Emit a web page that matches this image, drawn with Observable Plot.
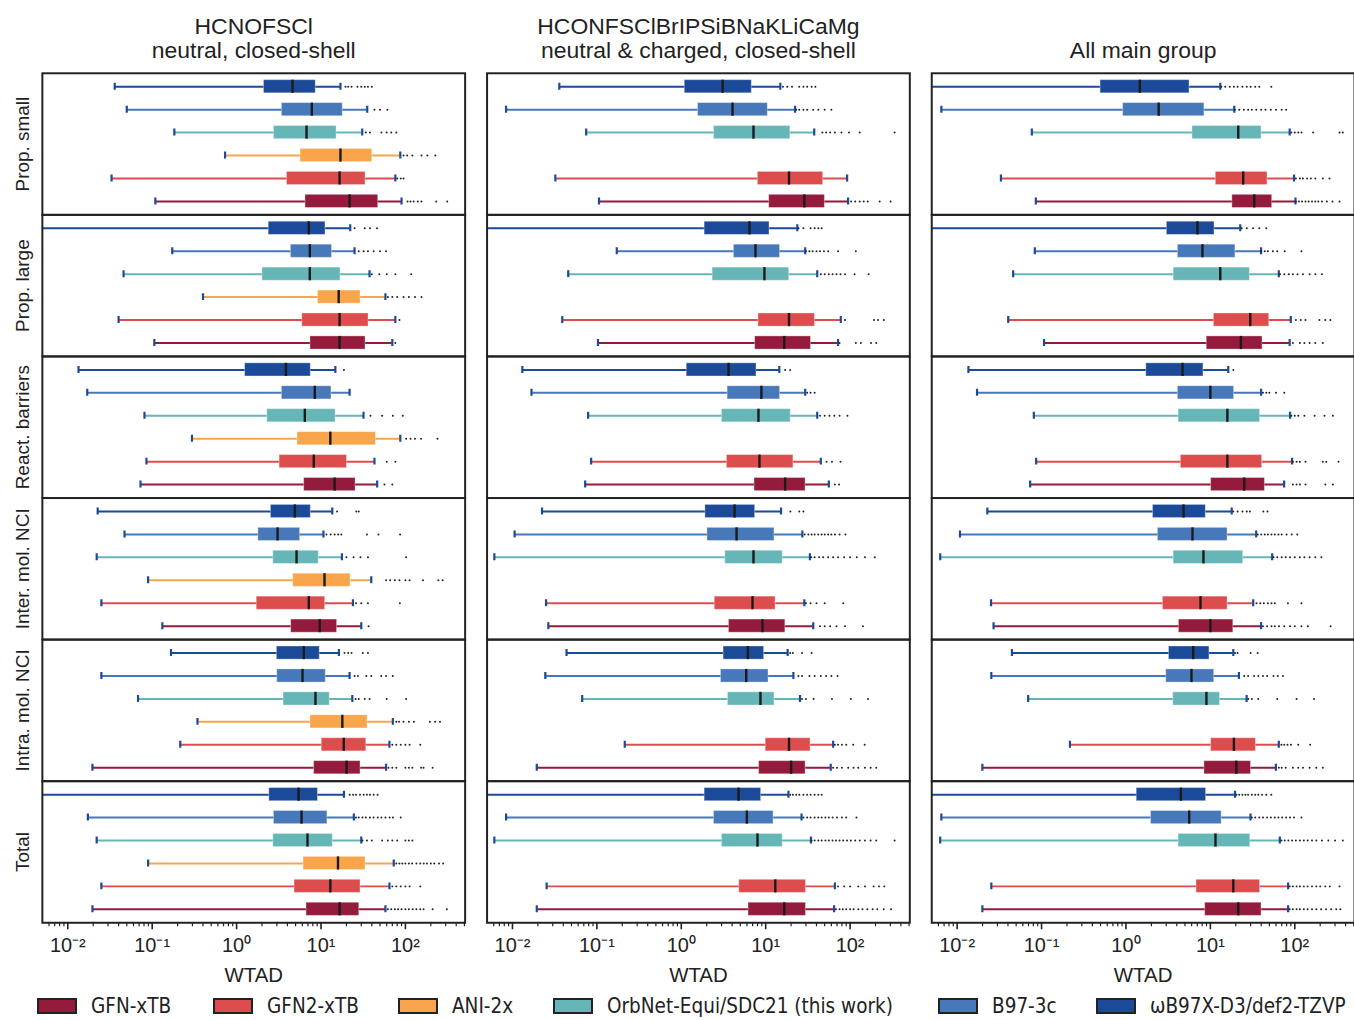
<!DOCTYPE html>
<html>
<head>
<meta charset="utf-8">
<script src="https://cdn.jsdelivr.net/npm/d3@7"></script>
<script src="https://cdn.jsdelivr.net/npm/@observablehq/plot@0.6"></script>
<style>
  html, body { margin: 0; padding: 0; background: #fff; overflow: hidden; width: 1354px; height: 1020px; }
  #chart svg { display: block; }
  #legend { position: relative; height: 18px; margin-top: 10px;
    font-family: "DejaVu Sans Condensed", "DejaVu Sans", sans-serif; font-stretch: condensed; font-size: 20.5px; line-height: 18px; color: #222; }
  .item { position: absolute; top: 0; display: flex; align-items: center; height: 18px; white-space: nowrap; }
  .item span { line-height: 18px; }
  .sw { width: 36px; height: 12px; border: 2px solid #222; margin-right: 14px; }
</style>
</head>
<body>
<div id="chart"></div>
<div id="legend"></div>
<script>
// ---------- data ----------
const subsets = ["HCNOFSCl", "HCONFSClBrIPSiBNaKLiCaMg", "All main group"];
const subsetTitles = ["HCNOFSCl\nneutral, closed-shell", "HCONFSClBrIPSiBNaKLiCaMg\nneutral & charged, closed-shell", "All main group"];
const tasks = ["Prop. small", "Prop. large", "React. barriers", "Inter. mol. NCI", "Intra. mol. NCI", "Total"];
const methodCodes = ["GFN", "GFN2", "ANI", "Orb", "B97", "wB97"];
const methodLabels = ["GFN-xTB", "GFN2-xTB", "ANI-2x", "OrbNet-Equi/SDC21 (this work)", "B97-3c", "ωB97X-D3/def2-TZVP"];
const methodColors = ["#941b3c", "#de4d4d", "#f8a54c", "#66b5b7", "#4778b9", "#1b4a99"];
const rowOrder = ["wB97", "B97", "Orb", "ANI", "GFN2", "GFN"];
const majorTicks = [0.01, 0.1, 1, 10, 100];
const tickLabels = ["10⁻²", "10⁻¹", "10⁰", "10¹", "10²"];
const minorMultipliers = [2, 3, 4, 5, 6, 7, 8, 9];

// [task, method, whisker low, q1, median, q3, whisker high]
const statsHCNOFSCl = [
  ["Prop. small", "wB97", 0.036, 2.11, 4.6, 8.67, 17],
  ["Prop. small", "B97", 0.05, 3.44, 7.78, 18.1, 35.3],
  ["Prop. small", "Orb", 0.183, 2.77, 6.74, 15.3, 30.8],
  ["Prop. small", "ANI", 0.73, 5.72, 17, 40.5, 87],
  ["Prop. small", "GFN2", 0.033, 3.95, 16.6, 33.7, 76],
  ["Prop. small", "GFN", 0.109, 6.55, 21.8, 47.6, 90],
  ["Prop. large", "wB97", 0.003, 2.4, 7.17, 11.3, 22.2],
  ["Prop. large", "B97", 0.173, 4.4, 7.37, 13.5, 25],
  ["Prop. large", "Orb", 0.0458, 2.02, 7.37, 17, 37.6],
  ["Prop. large", "ANI", 0.4, 9.2, 16.2, 29.4, 58],
  ["Prop. large", "GFN2", 0.04, 6.0, 16.6, 36.6, 76],
  ["Prop. large", "GFN", 0.106, 7.5, 16.6, 33.7, 70],
  ["React. barriers", "wB97", 0.0134, 1.26, 3.84, 7.57, 14.8],
  ["React. barriers", "B97", 0.017, 3.44, 8.44, 13.3, 21.8],
  ["React. barriers", "Orb", 0.081, 2.31, 6.43, 14.9, 31.9],
  ["React. barriers", "ANI", 0.296, 5.27, 12.9, 44.7, 87],
  ["React. barriers", "GFN2", 0.0855, 3.23, 8.21, 20.3, 43],
  ["React. barriers", "GFN", 0.0727, 6.31, 14.5, 25.7, 46.3],
  ["Inter. mol. NCI", "wB97", 0.0226, 2.55, 4.9, 7.57, 13.6],
  ["Inter. mol. NCI", "B97", 0.047, 1.81, 3.06, 5.66, 10.7],
  ["Inter. mol. NCI", "Orb", 0.022, 2.72, 5.13, 9.4, 17.7],
  ["Inter. mol. NCI", "ANI", 0.0895, 4.68, 11, 22.4, 39.4],
  ["Inter. mol. NCI", "GFN2", 0.025, 1.73, 7.17, 11.2, 23.9],
  ["Inter. mol. NCI", "GFN", 0.132, 4.43, 9.66, 15.5, 30],
  ["Intra. mol. NCI", "wB97", 0.167, 3.0, 6.26, 9.66, 16.3],
  ["Intra. mol. NCI", "B97", 0.025, 3.03, 6.04, 11.4, 21.8],
  ["Intra. mol. NCI", "Orb", 0.068, 3.6, 8.6, 12.7, 23.5],
  ["Intra. mol. NCI", "ANI", 0.344, 7.5, 17.9, 35.6, 71],
  ["Intra. mol. NCI", "GFN2", 0.215, 10.2, 18.6, 34.4, 64.7],
  ["Intra. mol. NCI", "GFN", 0.0196, 8.28, 20.1, 29.4, 59],
  ["Total", "wB97", 0.003, 2.44, 5.42, 9.2, 18.7],
  ["Total", "B97", 0.0173, 2.77, 5.88, 11.9, 24.5],
  ["Total", "Orb", 0.022, 2.72, 6.92, 13.8, 30],
  ["Total", "ANI", 0.0895, 6.21, 15.9, 33.7, 72.8],
  ["Total", "GFN2", 0.025, 4.86, 12.9, 29.4, 64.7],
  ["Total", "GFN", 0.0196, 6.73, 16.6, 28.4, 58]
];
const statsExtended = [
  ["Prop. small", "wB97", 0.0359, 1.1, 3.09, 6.85, 14.9],
  ["Prop. small", "B97", 0.0084, 1.58, 4.05, 10.6, 22.3],
  ["Prop. small", "Orb", 0.0747, 2.44, 7.17, 19.6, 37.6],
  ["Prop. small", "GFN2", 0.0322, 8.07, 18.9, 48, 92.2],
  ["Prop. small", "GFN", 0.106, 11, 28.7, 50.3, 94.7],
  ["Prop. large", "wB97", 0.003, 1.89, 6.43, 11.1, 23.7],
  ["Prop. large", "B97", 0.172, 4.2, 7.57, 14.8, 29.4],
  ["Prop. large", "Orb", 0.0458, 2.35, 9.66, 19, 40.8],
  ["Prop. large", "GFN2", 0.0389, 8.21, 18.9, 38.3, 77.6],
  ["Prop. large", "GFN", 0.103, 7.5, 16.6, 34.4, 72],
  ["React. barriers", "wB97", 0.0131, 1.16, 3.63, 7.78, 14.5],
  ["React. barriers", "B97", 0.0168, 3.54, 8.9, 14.8, 29.4],
  ["React. barriers", "Orb", 0.0788, 3.03, 8.21, 19.8, 40.8],
  ["React. barriers", "GFN2", 0.0855, 3.47, 8.44, 21.3, 45],
  ["React. barriers", "GFN", 0.0727, 7.37, 17, 29.7, 56],
  ["Inter. mol. NCI", "wB97", 0.0224, 1.93, 4.28, 7.5, 15.2],
  ["Inter. mol. NCI", "B97", 0.0106, 2.04, 4.52, 12.7, 27.2],
  ["Inter. mol. NCI", "Orb", 0.0061, 3.32, 7.17, 15.9, 33.4],
  ["Inter. mol. NCI", "GFN2", 0.025, 2.49, 6.98, 13.1, 28.7],
  ["Inter. mol. NCI", "GFN", 0.0266, 3.67, 9.16, 17.1, 36.6],
  ["Intra. mol. NCI", "wB97", 0.0437, 3.17, 6.15, 9.58, 18.2],
  ["Intra. mol. NCI", "B97", 0.0245, 2.95, 5.88, 10.8, 21.3],
  ["Intra. mol. NCI", "Orb", 0.067, 3.57, 8.67, 12.7, 25.5],
  ["Intra. mol. NCI", "GFN2", 0.214, 10, 18.9, 34, 63],
  ["Intra. mol. NCI", "GFN", 0.0194, 8.36, 20, 29.7, 59],
  ["Total", "wB97", 0.003, 1.89, 4.77, 8.83, 18.6],
  ["Total", "B97", 0.0084, 2.44, 5.98, 12.4, 26.6],
  ["Total", "Orb", 0.0061, 3.03, 8.0, 15.9, 34.4],
  ["Total", "GFN2", 0.0254, 4.86, 13, 30, 66],
  ["Total", "GFN", 0.0194, 6.26, 16.6, 30, 64.7]
];
const statsAllMain = [
  ["Prop. small", "wB97", 0.003, 0.5, 1.46, 5.66, 13.1],
  ["Prop. small", "B97", 0.0065, 0.925, 2.44, 8.5, 19.2],
  ["Prop. small", "Orb", 0.0767, 6.14, 21.4, 40.4, 87],
  ["Prop. small", "GFN2", 0.033, 11.6, 24.5, 47.5, 98],
  ["Prop. small", "GFN", 0.0855, 18.2, 33.1, 54, 102],
  ["Prop. large", "wB97", 0.003, 3.05, 7.03, 11.2, 22.6],
  ["Prop. large", "B97", 0.0832, 4.12, 8.06, 19.8, 39.9],
  ["Prop. large", "Orb", 0.0461, 3.67, 13.1, 29.4, 64.7],
  ["Prop. large", "GFN2", 0.0403, 11, 29.7, 49.8, 89.7],
  ["Prop. large", "GFN", 0.107, 9.06, 23, 41.5, 87],
  ["React. barriers", "wB97", 0.0136, 1.74, 4.68, 8.28, 16.3],
  ["React. barriers", "B97", 0.0172, 4.12, 10, 19.1, 39.9],
  ["React. barriers", "Orb", 0.081, 4.2, 15.9, 38.8, 88],
  ["React. barriers", "GFN2", 0.0863, 4.47, 15.9, 41.1, 93],
  ["React. barriers", "GFN", 0.0733, 10.2, 25.2, 44.3, 74.8],
  ["Inter. mol. NCI", "wB97", 0.0228, 2.09, 4.81, 8.83, 17.9],
  ["Inter. mol. NCI", "B97", 0.0108, 2.39, 6.14, 16, 34.9],
  ["Inter. mol. NCI", "Orb", 0.0063, 3.67, 8.28, 24.5, 54],
  ["Inter. mol. NCI", "GFN2", 0.0252, 2.74, 7.64, 16, 32.2],
  ["Inter. mol. NCI", "GFN", 0.027, 4.24, 10, 18.7, 39.9],
  ["Intra. mol. NCI", "wB97", 0.0446, 3.23, 6.26, 9.75, 18.7],
  ["Intra. mol. NCI", "B97", 0.0254, 3.0, 5.97, 11.1, 21.8],
  ["Intra. mol. NCI", "Orb", 0.0694, 3.63, 8.98, 13, 26.9],
  ["Intra. mol. NCI", "GFN2", 0.217, 10.2, 19, 34.6, 64.7],
  ["Intra. mol. NCI", "GFN", 0.0199, 8.5, 20.3, 30.3, 59.7],
  ["Total", "wB97", 0.003, 1.34, 4.47, 8.9, 19.6],
  ["Total", "B97", 0.0065, 1.98, 5.61, 13.6, 29.9],
  ["Total", "Orb", 0.0063, 4.2, 11.5, 29.7, 66.5],
  ["Total", "GFN2", 0.0254, 6.84, 18.7, 38.8, 83.4],
  ["Total", "GFN", 0.0199, 8.67, 21.4, 40.4, 83.4]
];

// [task, method, outlier values]
const outliersHCNOFSCl = [
  ["Prop. small", "wB97", [19.5, 21, 23, 27, 30, 33, 36, 40]],
  ["Prop. small", "B97", [43, 50, 61]],
  ["Prop. small", "Orb", [34, 38, 52, 60, 68, 78]],
  ["Prop. small", "ANI", [95, 105, 121, 155, 182, 226]],
  ["Prop. small", "GFN2", [80, 88, 95]],
  ["Prop. small", "GFN", [106, 115, 125, 140, 155, 232, 313]],
  ["Prop. large", "wB97", [25, 33, 38, 46]],
  ["Prop. large", "B97", [28, 32, 36, 42, 50, 59]],
  ["Prop. large", "Orb", [40, 49, 60, 76, 117]],
  ["Prop. large", "ANI", [62, 70, 80, 95, 110, 130, 155]],
  ["Prop. large", "GFN2", [85]],
  ["Prop. large", "GFN", [76]],
  ["React. barriers", "wB97", [18.7]],
  ["React. barriers", "Orb", [38.6, 53, 71, 93]],
  ["React. barriers", "ANI", [102, 115, 130, 153, 240]],
  ["React. barriers", "GFN2", [60, 76]],
  ["React. barriers", "GFN", [56.5, 70]],
  ["Inter. mol. NCI", "wB97", [15.5, 26.2, 28]],
  ["Inter. mol. NCI", "B97", [11.6, 13, 14.5, 16, 17.4, 35, 48, 86.5]],
  ["Inter. mol. NCI", "Orb", [20, 24.3, 29.4, 36, 102]],
  ["Inter. mol. NCI", "ANI", [59, 66, 75, 85, 100, 112, 162, 246, 276]],
  ["Inter. mol. NCI", "GFN2", [26, 30, 36, 86]],
  ["Inter. mol. NCI", "GFN", [36.6]],
  ["Intra. mol. NCI", "wB97", [19, 21, 23, 31.3, 36]],
  ["Intra. mol. NCI", "B97", [25, 27.4, 34.4, 39.4, 51.7, 59, 70.8]],
  ["Intra. mol. NCI", "Orb", [25.7, 28, 33, 37.6, 60, 102]],
  ["Intra. mol. NCI", "ANI", [78, 84, 95, 110, 126, 195, 225, 257]],
  ["Intra. mol. NCI", "GFN2", [70, 78, 88, 100, 112, 150]],
  ["Intra. mol. NCI", "GFN", [63, 70, 78, 100, 110, 121, 153, 164, 210]],
  ["Total", "wB97", [21.9, 24, 26, 29, 32, 35, 38, 42, 46.8]],
  ["Total", "B97", [26, 28, 31, 34, 38, 42, 47, 52, 58, 65, 71, 88]],
  ["Total", "Orb", [31, 35, 40, 53, 62, 70, 80, 100, 110, 121]],
  ["Total", "ANI", [78, 85, 92, 100, 110, 120, 135, 150, 165, 180, 200, 220, 250, 280]],
  ["Total", "GFN2", [70, 78, 88, 100, 112, 150]],
  ["Total", "GFN", [62, 68, 75, 82, 90, 100, 110, 122, 135, 150, 164, 210, 310]]
];
const outliersExtended = [
  ["Prop. small", "wB97", [16, 18, 20.5, 25, 28, 31, 35, 38.8]],
  ["Prop. small", "B97", [23, 25, 28, 31, 36.6, 42, 50, 60]],
  ["Prop. small", "Orb", [47, 52, 58, 66, 79, 97, 130, 337]],
  ["Prop. small", "GFN", [103, 115, 130, 145, 162, 224, 302]],
  ["Prop. large", "wB97", [24.5, 28, 34, 38, 42, 46]],
  ["Prop. large", "B97", [30, 33, 36, 40, 44, 49, 55, 72, 117]],
  ["Prop. large", "Orb", [45, 50, 56, 62, 69, 77, 87, 113, 166]],
  ["Prop. large", "GFN2", [87, 192, 215, 251]],
  ["Prop. large", "GFN", [75, 117, 134, 177, 204]],
  ["React. barriers", "wB97", [17, 19.5]],
  ["React. barriers", "B97", [31, 34, 38]],
  ["React. barriers", "Orb", [44, 50, 57, 65, 75, 93]],
  ["React. barriers", "GFN2", [52.6, 61, 77]],
  ["React. barriers", "GFN", [66, 74]],
  ["Inter. mol. NCI", "wB97", [19.6, 25, 28]],
  ["Inter. mol. NCI", "B97", [29, 32, 35, 38, 42, 46, 50, 55, 60, 66, 75, 88]],
  ["Inter. mol. NCI", "Orb", [34.7, 38, 43, 48, 55, 63, 72, 85, 100, 120, 150, 196]],
  ["Inter. mol. NCI", "GFN2", [30, 34, 40, 50, 83]],
  ["Inter. mol. NCI", "GFN", [44, 50, 58, 69, 87, 142]],
  ["Intra. mol. NCI", "wB97", [19.5, 21, 27, 35]],
  ["Intra. mol. NCI", "B97", [24.4, 27, 33, 38, 45, 52, 60, 71]],
  ["Intra. mol. NCI", "Orb", [27, 30, 37, 61, 102, 163]],
  ["Intra. mol. NCI", "GFN2", [66, 72, 80, 90, 109, 149]],
  ["Intra. mol. NCI", "GFN", [63, 70, 80, 95, 110, 125, 150, 175, 204]],
  ["Total", "wB97", [19.5, 21, 23, 25, 28, 31, 34, 38, 42, 46]],
  ["Total", "B97", [28, 31, 34, 38, 42, 46, 51, 56, 62, 70, 80, 90, 119]],
  ["Total", "Orb", [35, 38, 42, 46, 51, 56, 62, 68, 75, 83, 92, 102, 115, 130, 150, 175, 204, 337]],
  ["Total", "GFN2", [72, 85, 100, 125, 150, 190, 220, 254]],
  ["Total", "GFN", [68, 75, 82, 90, 100, 110, 125, 140, 160, 185, 210, 250, 306]]
];
const outliersAllMain = [
  ["Prop. small", "wB97", [13.5, 15, 17, 19, 21, 24, 27, 30, 34, 38, 52.7]],
  ["Prop. small", "B97", [19.5, 22, 25, 28, 31, 35, 40, 45, 52, 60, 70, 79]],
  ["Prop. small", "Orb", [91, 100, 110, 120, 165, 339, 371]],
  ["Prop. small", "GFN2", [103, 115, 125, 140, 155, 175, 215, 258]],
  ["Prop. small", "GFN", [103, 112, 122, 134, 146, 160, 175, 190, 210, 240, 280, 339]],
  ["Prop. large", "wB97", [23.5, 27, 32, 38, 46]],
  ["Prop. large", "B97", [40, 44, 48, 55, 62, 76, 120]],
  ["Prop. large", "Orb", [67, 75, 85, 95, 108, 125, 150, 175, 210]],
  ["Prop. large", "GFN2", [103, 118, 134, 196, 230, 264]],
  ["Prop. large", "GFN", [95, 115, 130, 150, 175, 215]],
  ["React. barriers", "wB97", [18.7]],
  ["React. barriers", "B97", [42, 46, 50, 60, 75]],
  ["React. barriers", "Orb", [91, 100, 110, 130, 172, 225, 283]],
  ["React. barriers", "GFN2", [95, 105, 115, 134, 215, 236, 330]],
  ["React. barriers", "GFN", [95, 105, 115, 134, 230, 283]],
  ["Inter. mol. NCI", "wB97", [18.7, 21, 24, 27, 29.4, 42.4, 47.5]],
  ["Inter. mol. NCI", "B97", [36.4, 40, 44, 48, 53, 58, 64, 70, 80, 92, 107]],
  ["Inter. mol. NCI", "Orb", [56, 62, 70, 78, 88, 100, 115, 130, 150, 175, 207]],
  ["Inter. mol. NCI", "GFN2", [35.2, 39, 43, 48, 53, 58, 83, 120]],
  ["Inter. mol. NCI", "GFN", [42, 47, 53, 58, 65, 75, 88, 100, 120, 143, 266]],
  ["Intra. mol. NCI", "wB97", [19.6, 21, 30, 36.3]],
  ["Intra. mol. NCI", "B97", [25.2, 28, 33, 37, 42, 47, 56, 63, 72.4]],
  ["Intra. mol. NCI", "Orb", [28.1, 31, 36.9, 62, 105, 169]],
  ["Intra. mol. NCI", "GFN2", [69.5, 75, 82, 90, 110, 152]],
  ["Intra. mol. NCI", "GFN", [64.8, 70, 78, 95, 110, 125, 150, 180, 215]],
  ["Total", "wB97", [20.4, 22, 24, 26, 28, 31, 34, 37, 41, 46, 52.7]],
  ["Total", "B97", [31, 34, 38, 42, 47, 52, 58, 64, 71, 79, 88, 98, 120]],
  ["Total", "Orb", [69.5, 76, 84, 93, 103, 115, 128, 142, 160, 180, 210, 250, 300, 371]],
  ["Total", "GFN2", [87, 95, 105, 115, 128, 142, 160, 180, 200, 230, 260, 339]],
  ["Total", "GFN", [87, 95, 105, 115, 128, 142, 160, 180, 205, 235, 270, 310, 347]]
];

// ---------- tables for the library ----------
const statSets = [statsHCNOFSCl, statsExtended, statsAllMain];
const outlierSets = [outliersHCNOFSCl, outliersExtended, outliersAllMain];
const boxes = [];
statSets.forEach((rows, i) => rows.forEach(([task, method, lo, q1, med, q3, hi]) =>
  boxes.push({subset: subsets[i], task, method, lo, q1, med, q3, hi})));
const caps = boxes.flatMap(b => [{...b, v: b.lo}, {...b, v: b.hi}]);
const fliers = [];
outlierSets.forEach((rows, i) => rows.forEach(([task, method, vals]) =>
  vals.forEach(v => fliers.push({subset: subsets[i], task, method, v}))));
const titles = subsets.map((s, i) => ({subset: s, task: tasks[0], text: subsetTitles[i]}));
const rowLabels = tasks.map(t => ({subset: subsets[0], task: t}));
const xLabels = subsets.map(s => ({subset: s, task: tasks[tasks.length - 1]}));
const minorTicks = majorTicks.slice(0, -1).flatMap(d => minorMultipliers.map(m => +(d * m).toPrecision(3)))
  .concat([0.006, 0.007, 0.008, 0.009, 200, 300, 400, 500]);
const tickText = d => tickLabels[majorTicks.indexOf(d)] ?? "";

const BOX_INSET = 4.9;
const chart = Plot.plot({
  width: 1358,
  height: 990,
  marginLeft: 42,
  marginRight: 0,
  marginTop: 72,
  marginBottom: 64,
  style: {fontFamily: "'Liberation Sans', Arial, sans-serif", fontSize: "19px", color: "#222", background: "#fff", overflow: "visible"},
  x: {type: "log", domain: [0.005, 510], label: null},
  y: {domain: rowOrder, padding: 0, axis: null},
  fx: {domain: subsets, paddingInner: 22 / 446, paddingOuter: 0, axis: null},
  fy: {domain: tasks, padding: 0, axis: null},
  color: {domain: methodCodes, range: methodColors},
  marks: [
    Plot.ruleY(boxes, {fx: "subset", fy: "task", y: "method", x1: "lo", x2: "hi", stroke: "method", strokeWidth: 2, clip: true}),
    Plot.tickX(caps, {fx: "subset", fy: "task", y: "method", x: "v", stroke: "#1b4a99", strokeWidth: 2.2, insetTop: 8, insetBottom: 8, clip: true}),
    Plot.barX(boxes, {fx: "subset", fy: "task", y: "method", x1: "q1", x2: "q3", fill: "method",
      stroke: "#fff", strokeOpacity: 0.35, strokeWidth: 1, insetTop: BOX_INSET, insetBottom: BOX_INSET}),
    Plot.tickX(boxes, {fx: "subset", fy: "task", y: "method", x: "med", stroke: "#1a1a1a", strokeWidth: 2.4, insetTop: BOX_INSET, insetBottom: BOX_INSET}),
    Plot.dot(fliers, {fx: "subset", fy: "task", y: "method", x: "v", r: 1, fill: "#222", stroke: "none", clip: true}),
    Plot.frame({stroke: "#222", strokeWidth: 2}),
    Plot.axisX({ticks: majorTicks, tickFormat: tickText, tickSize: 7, tickPadding: 8, fontSize: 20, label: null, strokeWidth: 1.6, stroke: "#222"}),
    Plot.axisX({ticks: minorTicks, tickFormat: () => "", tickSize: 4, label: null, strokeWidth: 1.2, stroke: "#222"}),
    Plot.text(titles, {fx: "subset", fy: "task", text: "text", frameAnchor: "top", lineAnchor: "bottom", dy: -15, fontSize: 23, lineHeight: 1.08, fill: "#222"}),
    Plot.text(rowLabels, {fx: "subset", fy: "task", text: "task", frameAnchor: "left", textAnchor: "middle", rotate: -90, dx: -20, fontSize: 19, fill: "#222"}),
    Plot.text(xLabels, {fx: "subset", fy: "task", text: () => "WTAD", frameAnchor: "bottom", dy: 59, fontSize: 20.5, fill: "#222"})
  ]
});
document.getElementById("chart").appendChild(chart);

// ---------- legend ----------
const legendLeft = [37, 213, 398, 553, 938, 1096];
const legend = document.getElementById("legend");
methodCodes.forEach((m, i) => {
  const item = document.createElement("div");
  item.className = "item";
  item.style.left = legendLeft[i] + "px";
  const sw = document.createElement("div");
  sw.className = "sw";
  sw.style.background = methodColors[i];
  const label = document.createElement("span");
  label.textContent = methodLabels[i];
  item.appendChild(sw);
  item.appendChild(label);
  legend.appendChild(item);
});
</script>
</body>
</html>
